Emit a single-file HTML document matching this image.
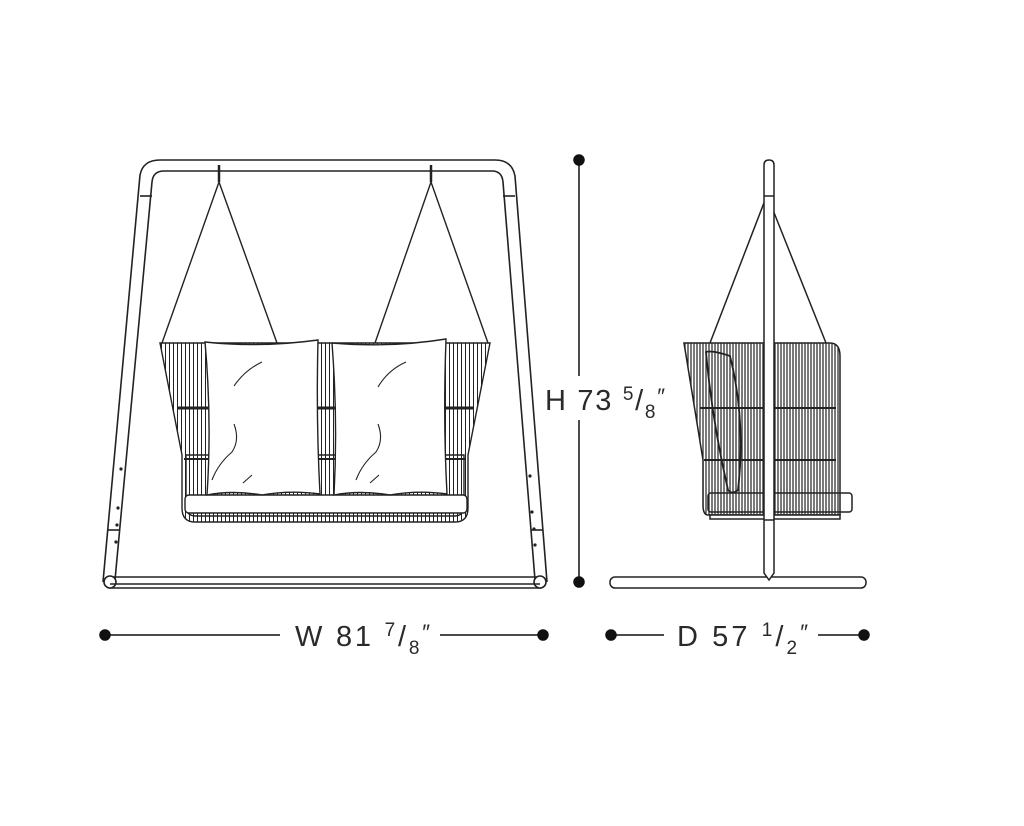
<!DOCTYPE html>
<html><head><meta charset="utf-8"><style>
html,body{margin:0;padding:0;background:#fff;}
svg{display:block;}
text{font-family:"Liberation Sans",sans-serif;fill:#2a2a2a;}
</style></head><body>
<svg width="1024" height="826" viewBox="0 0 1024 826" xmlns="http://www.w3.org/2000/svg">
<defs>
<pattern id="sl" width="4" height="10" patternUnits="userSpaceOnUse"><rect width="4" height="10" fill="#fff"/><line x1="1.5" y1="0" x2="1.5" y2="10" stroke="#222" stroke-width="1"/></pattern>
<pattern id="sl2" width="3" height="10" patternUnits="userSpaceOnUse"><rect width="3" height="10" fill="#fff"/><line x1="1" y1="0" x2="1" y2="10" stroke="#222" stroke-width="1.2"/></pattern>
</defs>
<g fill="none" stroke="#222" stroke-width="1.6">
<path d="M103,582 L140,175 Q143,160 160,160 L495,160 Q512,160 515,176 L547,582"/>
<path d="M115,580 L152,182 Q153,171 164,171 L492,171 Q502,171 503,182 L535,580"/>
<line x1="140" y1="196" x2="152" y2="196"/><line x1="503" y1="196" x2="515" y2="196"/>
<line x1="108" y1="530" x2="120" y2="530"/><line x1="531" y1="530" x2="543" y2="530"/>
<rect x="105" y="577" width="440" height="11" rx="5"/>
<circle cx="110" cy="582" r="6" fill="#fff"/><circle cx="540" cy="582" r="6" fill="#fff"/>
<line x1="110" y1="584" x2="540" y2="584"/>
</g>
<g fill="#222">
<circle cx="121" cy="469" r="1.6"/><circle cx="118" cy="508" r="1.6"/><circle cx="117" cy="525" r="1.6"/><circle cx="116" cy="542" r="1.6"/>
<circle cx="530" cy="476" r="1.6"/><circle cx="532" cy="512" r="1.6"/><circle cx="534" cy="529" r="1.6"/><circle cx="535" cy="545" r="1.6"/>
</g>
<g fill="none" stroke="#222" stroke-width="1.4">
<line x1="219" y1="165" x2="219" y2="182" stroke-width="2.5"/><line x1="431" y1="165" x2="431" y2="182" stroke-width="2.5"/>
<path d="M162,343 L219,182 L277,343"/><path d="M375,343 L431,182 L488,343"/>
<path d="M160,343 L490,343 L468,455 L468,508 Q468,522 455,522 L195,522 Q182,522 182,508 L182,455 Z" fill="url(#sl)"/>
<path d="M186,455 L464,455 L464,506 Q464,516 454,516 L196,516 Q186,516 186,506 Z" fill="url(#sl)"/>
<line x1="177" y1="408" x2="474" y2="408" stroke-width="3"/>
<line x1="184" y1="459" x2="466" y2="459" stroke-width="2"/>
<rect x="185" y="495" width="282" height="18" rx="4" fill="#fff"/>
<path d="M205,342 Q260,348 318,340 Q316,420 320,494 Q290,490 262,495 Q232,490 207,495 Q212,420 205,342 Z" fill="#fff"/>
<path d="M332,343 Q390,348 446,339 Q443,420 447,494 Q418,490 390,495 Q360,490 334,495 Q338,420 332,343 Z" fill="#fff"/>
<path d="M234,386 Q245,370 262,362" stroke-width="1.1"/><path d="M234,424 Q240,440 232,452 Q218,464 212,480" stroke-width="1.1"/><path d="M243,483 L252,475" stroke-width="1.1"/>
<path d="M378,387 Q388,370 406,362" stroke-width="1.1"/><path d="M378,424 Q384,440 376,452 Q362,464 356,480" stroke-width="1.1"/><path d="M370,483 L379,475" stroke-width="1.1"/>
</g>
<g fill="none" stroke="#222" stroke-width="1.5">
<path d="M710,343 L767,195 L826,343"/>
<path d="M684,343 L830,343 Q840,343 840,356 L840,515 L708,515 Q703,515 703,505 L703,460 Z" fill="url(#sl2)"/>
<line x1="700" y1="408" x2="836" y2="408" stroke-width="2"/>
<line x1="704" y1="460" x2="836" y2="460" stroke-width="2"/>
<rect x="708" y="493" width="144" height="19" rx="3"/>
<path d="M706,352 Q712,350 730,356 Q746,420 738,490 Q732,495 728,490 Q712,420 706,352 Z" stroke-width="1.8"/>
<rect x="710" y="515" width="130" height="4" fill="#fff"/>
<rect x="610" y="577" width="256" height="11" rx="5" fill="#fff"/>
<path d="M764,165 Q764,160 769,160 Q774,160 774,165 L774,573 L769,580 L764,573 Z" fill="#fff"/>
<line x1="764" y1="196" x2="774" y2="196"/><line x1="764" y1="520" x2="774" y2="520"/>
</g>
<g stroke="#111" stroke-width="1.5" fill="#111">
<line x1="579" y1="160" x2="579" y2="582"/><circle cx="579" cy="160" r="5"/><circle cx="579" cy="582" r="5"/>
<line x1="105" y1="635" x2="280" y2="635"/><line x1="440" y1="635" x2="543" y2="635"/>
<circle cx="105" cy="635" r="5"/><circle cx="543" cy="635" r="5"/>
<line x1="611" y1="635" x2="664" y2="635"/><line x1="818" y1="635" x2="864" y2="635"/>
<circle cx="611" cy="635" r="5"/><circle cx="864" cy="635" r="5"/>
</g>
<rect x="540" y="376" width="132" height="44" fill="#fff"/>
<text x="545" y="410" font-size="29" textLength="120" lengthAdjust="spacing">H 73 <tspan font-size="19" dy="-10">5</tspan><tspan font-size="29" dy="10">/</tspan><tspan font-size="19" dy="8">8</tspan><tspan font-size="22" dy="-14">″</tspan></text>
<text x="295" y="646" font-size="29" textLength="135" lengthAdjust="spacing">W 81 <tspan font-size="19" dy="-10">7</tspan><tspan font-size="29" dy="10">/</tspan><tspan font-size="19" dy="8">8</tspan><tspan font-size="22" dy="-14">″</tspan></text>
<text x="677" y="646" font-size="29" textLength="131" lengthAdjust="spacing">D 57 <tspan font-size="19" dy="-10">1</tspan><tspan font-size="29" dy="10">/</tspan><tspan font-size="19" dy="8">2</tspan><tspan font-size="22" dy="-14">″</tspan></text>
</svg>
</body></html>
